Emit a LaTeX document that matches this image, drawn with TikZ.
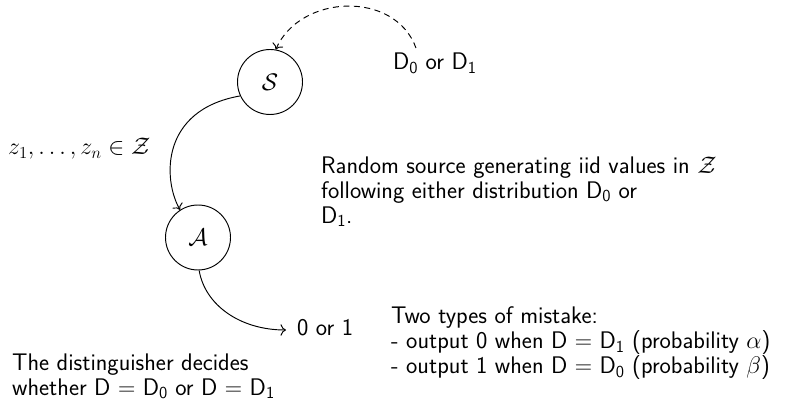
\RequirePackage{fix-cm}
\documentclass[tikz,border=0pt]{standalone}
\usepackage{amsmath}
\usetikzlibrary{arrows.meta}
\begin{document}
\begin{tikzpicture}[x=1pt,y=1pt,
  every node/.style={font=\sffamily\fontsize{24}{25}\selectfont},
  st/.style={draw,circle,minimum size=65pt,inner sep=0pt,line width=0.95pt},
  txt/.style={inner sep=0pt,align=left},
  conn/.style={line width=0.95pt,-{To[scale=1.5]}},
  dsh/.style={dash pattern=on 6pt off 4.5pt}]
\useasboundingbox (0,0) rectangle (796,-401);
\node[st] (S) at (270,-82) {$\mathcal{S}$};
\node[st] (A) at (198,-237.5) {$\mathcal{A}$};
\node[txt,anchor=base west] (d01) at (393,-70) {D$_{\mathsf{0}}$ or D$_{\mathsf{1}}$};
\node[txt,anchor=base west] (z) at (8,-155) {$z_1,\dots,z_n\in\mathcal{Z}$};
\node[txt,anchor=base west] (out) at (297,-335) {0 or 1};
\node[txt,anchor=north west] (dist) at (12,-353.5) {The distinguisher decides\\whether D $=$ D$_{\mathsf{0}}$ or D $=$ D$_{\mathsf{1}}$};
\node[txt,anchor=north west] (rs) at (321,-156.5) {Random source generating iid values in $\mathcal{Z}$\\following either distribution D$_{\mathsf{0}}$ or\\D$_{\mathsf{1}}$.};
\node[txt,anchor=north west] (two) at (391,-306.5) {Two types of mistake:\\- output 0 when D $=$ D$_{\mathsf{1}}$ (probability $\alpha$)\\- output 1 when D $=$ D$_{\mathsf{0}}$ (probability $\beta$)};
\coordinate (dstart) at (416,-48);
\draw[conn,dsh] (dstart) .. controls (395,10) and (300,6) .. (S.80);
\draw[conn] (S.205) .. controls (160,-110) and (163,-180) .. (A.123);
\coordinate (oend) at (286,-330);
\draw[conn] (A.-88) .. controls (205,-305) and (240,-330) .. (oend);
\end{tikzpicture}
\end{document}
